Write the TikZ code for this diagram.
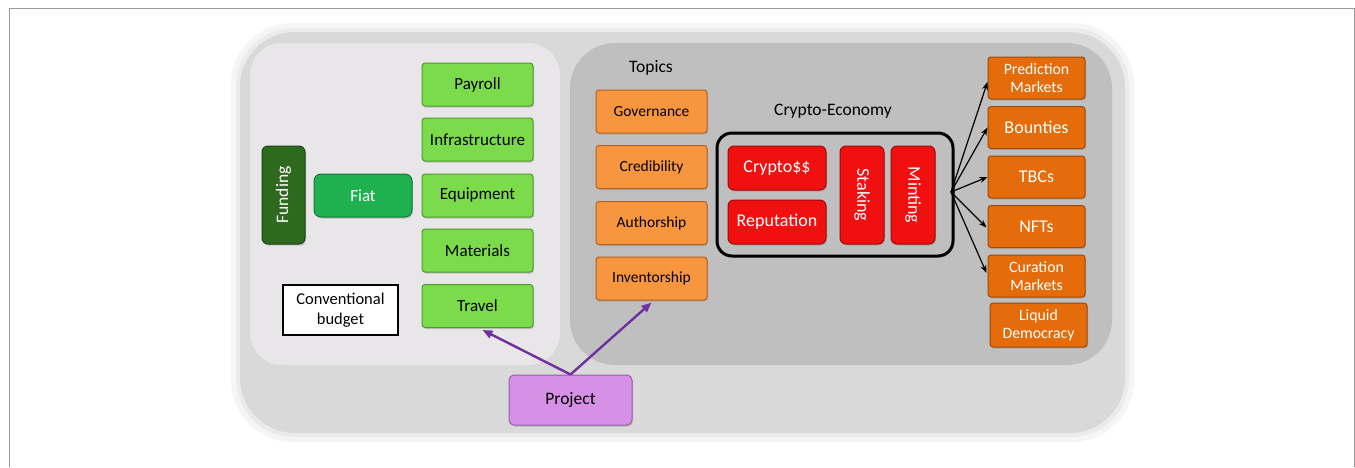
\documentclass[tikz,border=0pt]{standalone}
\usepackage{fontspec}
\setmainfont{Carlito}
\usetikzlibrary{arrows.meta,shadows,calc}
\definecolor{outerbg}{HTML}{D9D9D9}
\definecolor{halo}{HTML}{F5F5F5}
\definecolor{halo2}{HTML}{EBEBEB}
\definecolor{leftbg}{HTML}{E8E6E8}
\definecolor{rightbg}{HTML}{BFBFBF}
\definecolor{grn}{HTML}{7CDB4A}
\definecolor{grnd}{HTML}{4E9A2C}
\definecolor{fiat}{HTML}{1FB050}
\definecolor{fiatd}{HTML}{137A36}
\definecolor{fund}{HTML}{2D6A1E}
\definecolor{fundd}{HTML}{1C4512}
\definecolor{orl}{HTML}{F8963F}
\definecolor{orld}{HTML}{B8601A}
\definecolor{ord}{HTML}{E46C0A}
\definecolor{ordd}{HTML}{9E4A06}
\definecolor{rd}{HTML}{F01010}
\definecolor{rdd}{HTML}{A00808}
\definecolor{prp}{HTML}{D690E6}
\definecolor{prpd}{HTML}{9A5AAA}
\definecolor{arrp}{HTML}{7030A0}
\tikzset{
  bx/.style={rounded corners=3pt, inner sep=0pt, align=center, line width=1pt,
    drop shadow={shadow xshift=1pt, shadow yshift=-1.5pt, opacity=0.35}},
  greenbox/.style={bx, fill=grn, draw=grnd, minimum width=111pt, minimum height=43pt,
    font=\fontsize{17}{19}\selectfont},
  topicbox/.style={bx, fill=orl, draw=orld, minimum width=111pt, minimum height=43pt,
    font=\fontsize{15.5}{18}\selectfont},
  outbox/.style={bx, fill=ord, draw=ordd, minimum width=97pt, minimum height=42pt,
    text=white, font=\fontsize{15.8}{18}\selectfont},
  bigout/.style={font=\fontsize{18}{20}\selectfont},
  redbox/.style={bx, rounded corners=6pt, fill=rd, draw=rdd, text=white,
    font=\fontsize{18}{20}\selectfont},
  lbl/.style={font=\fontsize{17.5}{20}\selectfont},
  blk/.style={-{Stealth[length=8pt,width=6pt]}, line width=1.2pt, black},
  purp/.style={-{Triangle[length=10pt,width=8pt]}, line width=2.4pt, arrp},
}
\begin{document}
\begin{tikzpicture}[x=1pt,y=-1pt]
\useasboundingbox (0,0) rectangle (1355,467);
\fill[white] (0,0) rectangle (1355,467);
\draw[gray!80, line width=1pt] (9,467) -- (9,8) -- (1354,8) -- (1354,467);
% panels
\fill[halo, rounded corners=62pt] (231,23) rectangle (1134,442);
\fill[halo2, rounded corners=58pt] (236,28) rectangle (1129,437);
\fill[outerbg, rounded corners=55pt] (240,32) rectangle (1125,433);
\fill[leftbg, rounded corners=32pt] (250,43) rectangle (560,365);
\fill[rightbg, rounded corners=45pt] (570,43) rectangle (1112,365);
% left: budget
\node[greenbox] (payroll) at (477.5,84.5) {Payroll};
\node[greenbox] (infra) at (477.5,139.5) {Infrastructure};
\node[greenbox] (equip) at (477.5,195.5) {Equipment};
\node[greenbox] (mat) at (477.5,250.5) {Materials};
\node[greenbox] (travel) at (477.5,306) {Travel};
\node[bx, rounded corners=6pt, fill=fund, draw=fundd, text=white, minimum width=43pt, minimum height=98pt,
  font=\fontsize{17.5}{19}\selectfont] (funding) at (283.5,195) {\rotatebox{90}{Funding}};
\node[bx, rounded corners=7pt, fill=fiat, draw=fiatd, text=white, minimum width=98pt, minimum height=43pt,
  font=\fontsize{17}{19}\selectfont] (fiat) at (363,195.5) {Fiat};
\node[draw=black, fill=white, line width=1.6pt, minimum width=115pt, minimum height=50pt, inner sep=0pt,
  align=center, font=\fontsize{16.5}{20}\selectfont] (conv) at (340.5,310) {Conventional\\budget};
% topics
\node[lbl] (topics) at (651,68) {Topics};
\node[topicbox] (gov) at (651.5,111.5) {Governance};
\node[topicbox] (cred) at (651.5,167) {Credibility};
\node[topicbox] (auth) at (651.5,223) {Authorship};
\node[topicbox] (inv) at (651.5,278.5) {Inventorship};
% crypto-economy
\node[lbl] (celabel) at (833,111) {Crypto-Economy};
\node[draw=black, line width=3pt, rounded corners=15pt, minimum width=236pt, minimum height=123pt, inner sep=0pt]
  (ce) at (835,194.5) {};
\node[redbox, minimum width=98pt, minimum height=44pt] (crypto) at (777,168) {Crypto\$\$};
\node[redbox, minimum width=98pt, minimum height=44pt] (rep) at (777,222) {Reputation};
\node[redbox, minimum width=44pt, minimum height=98pt] (stak) at (862,195) {\rotatebox{-90}{Staking}};
\node[redbox, minimum width=44pt, minimum height=98pt] (mint) at (913,195) {\rotatebox{-90}{Minting}};
% outputs
\node[outbox] (pm) at (1036.5,78) {Prediction\\Markets};
\node[outbox, bigout] (bount) at (1036.5,127.5) {Bounties};
\node[outbox, bigout] (tbc) at (1036.5,177) {TBCs};
\node[outbox, bigout] (nft) at (1036.5,226.5) {NFTs};
\node[outbox] (cm) at (1036.5,276) {Curation\\Markets};
\node[outbox, minimum height=44pt] (ld) at (1038.5,325) {Liquid\\Democracy};
\coordinate (hub) at (951,192);
\draw[blk] (hub) -- ([yshift=-4pt]pm.west);
\draw[blk] (hub) -- (bount.west);
\draw[blk] (hub) -- (tbc.west);
\draw[blk] (hub) -- ([xshift=-1pt,yshift=-1pt]nft.west);
\draw[blk] (hub) -- ([xshift=-1pt,yshift=3pt]cm.west);
% project
\node[bx, rounded corners=5pt, fill=prp, draw=prpd, minimum width=123pt, minimum height=50pt,
  font=\fontsize{17.5}{20}\selectfont] (proj) at (570.5,400) {Project};
\draw[purp] (proj.north) -- ([xshift=5pt,yshift=-2pt]travel.south);
\draw[purp] (proj.north) -- ([yshift=-2pt]inv.south);
\end{tikzpicture}
\end{document}
